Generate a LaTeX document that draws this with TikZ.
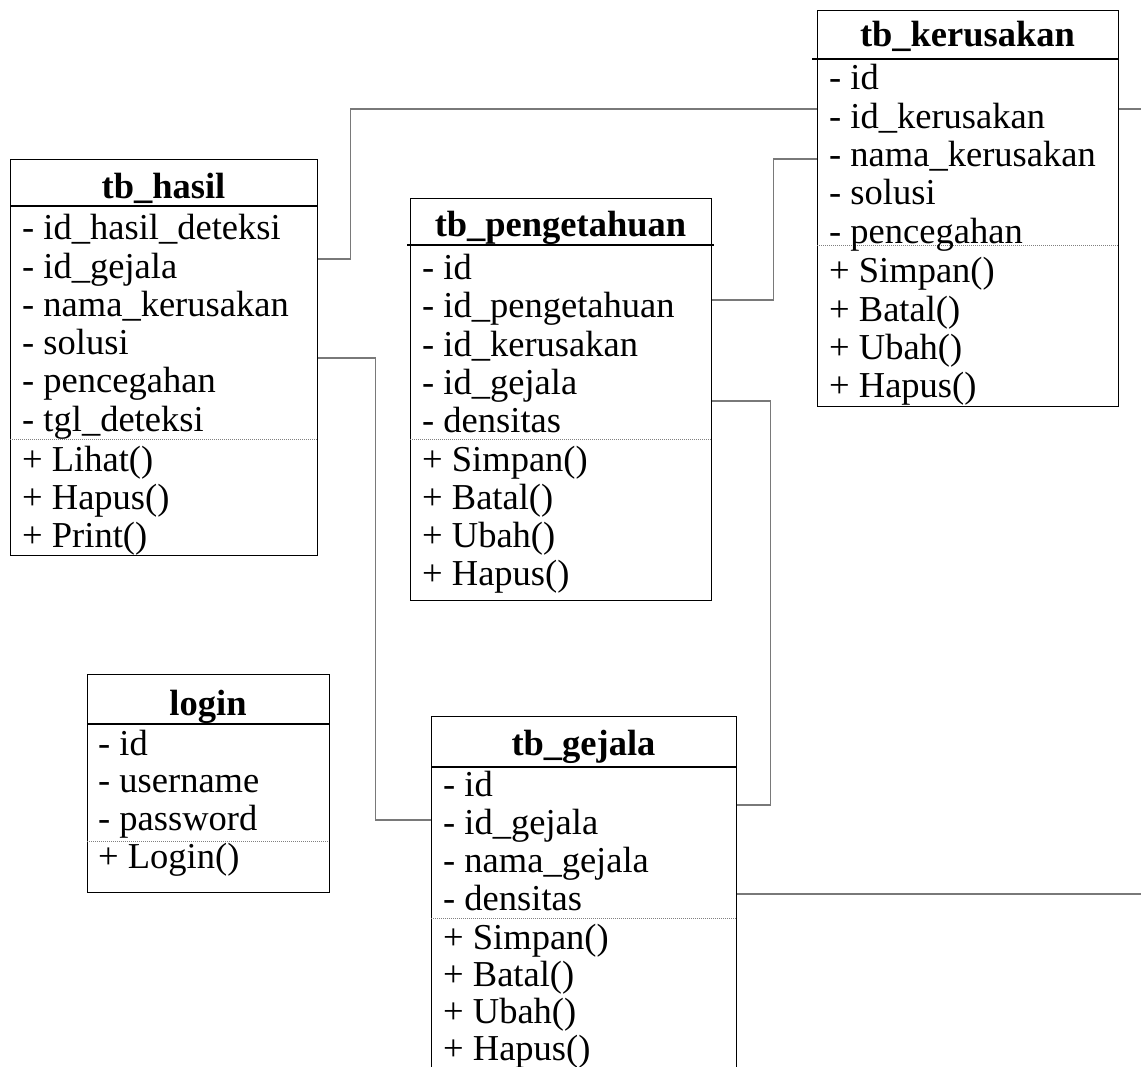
\documentclass[tikz,border=0pt]{standalone}
\usepackage{fontspec}
\setmainfont{Liberation Serif}
\usetikzlibrary{calc}

\tikzset{
  classbox/.style={draw=black, line width=1.3pt, anchor=north west, inner sep=0pt, fill=none},
  title/.style={anchor=base, inner sep=0pt, font=\fontsize{36.5}{38}\selectfont\bfseries},
  member/.style={anchor=base west, inner sep=0pt, font=\fontsize{36.5}{38}\selectfont},
  headrule/.style={draw=black, line width=1.3pt},
  splitrule/.style={draw=gray, line width=0.9pt, dash pattern=on 1pt off 1pt},
  conn/.style={draw=gray!95!black, line width=1.5pt},
}

\begin{document}
\begin{tikzpicture}[x=1pt, y=-1pt]
\clip (0,0) rectangle (1141,1067);

% ---- tb_hasil ----
\node[classbox, minimum width=307pt, minimum height=396pt] (hasil) at (10,159) {};
\node[title] (hasil-t) at (163.5,199) {tb\_hasil};
\draw[headrule] (10,206) -- (317,206);
\draw[splitrule] (10,439) -- (317,439);
\foreach \t [count=\i] in {- id\_hasil\_deteksi, - id\_gejala, - nama\_kerusakan, - solusi, - pencegahan, - tgl\_deteksi}
  \node[member] (hasil-a\i) at (22,{240+38.2*(\i-1)}) {\t};
\foreach \t [count=\i] in {+ Lihat(), + Hapus(), + Print()}
  \node[member] (hasil-m\i) at (22,{471+38*(\i-1)}) {\t};

% ---- tb_pengetahuan ----
\node[classbox, minimum width=301pt, minimum height=402pt] (peng) at (410,198) {};
\node[title] (peng-t) at (560.5,237) {tb\_pengetahuan};
\draw[headrule] (407,245) -- (714,245);
\draw[splitrule] (410,439) -- (711,439);
\foreach \t [count=\i] in {- id, - id\_pengetahuan, - id\_kerusakan, - id\_gejala, - densitas}
  \node[member] (peng-a\i) at (422,{280+38*(\i-1)}) {\t};
\foreach \t [count=\i] in {+ Simpan(), + Batal(), + Ubah(), + Hapus()}
  \node[member] (peng-m\i) at (422,{471+38.3*(\i-1)}) {\t};

% ---- tb_kerusakan ----
\node[classbox, minimum width=301pt, minimum height=396pt] (kerus) at (817,10) {};
\node[title] (kerus-t) at (967.5,47) {tb\_kerusakan};
\draw[headrule] (812,59) -- (1118,59);
\draw[splitrule] (817,245) -- (1118,245);
\foreach \t [count=\i] in {- id, - id\_kerusakan, - nama\_kerusakan, - solusi, - pencegahan}
  \node[member] (kerus-a\i) at (829,{90+38.3*(\i-1)}) {\t};
\foreach \t [count=\i] in {+ Simpan(), + Batal(), + Ubah(), + Hapus()}
  \node[member] (kerus-m\i) at (829,{283+38.3*(\i-1)}) {\t};

% ---- login ----
\node[classbox, minimum width=242pt, minimum height=218pt] (login) at (87,674) {};
\node[title] (login-t) at (208,715) {login};
\draw[headrule] (87,724) -- (329,724);
\draw[splitrule] (87,841) -- (329,841);
\foreach \t [count=\i] in {- id, - username, - password}
  \node[member] (login-a\i) at (98,{755+37.5*(\i-1)}) {\t};
\node[member] (login-m1) at (98,868) {+ Login()};

% ---- tb_gejala (runs past the lower edge) ----
\node[classbox, minimum width=305pt, minimum height=420pt] (gejala) at (431,716) {};
\node[title] (gejala-t) at (583.5,755) {tb\_gejala};
\draw[headrule] (431,767) -- (736,767);
\draw[splitrule] (431,918) -- (736,918);
\foreach \t [count=\i] in {- id, - id\_gejala, - nama\_gejala, - densitas}
  \node[member] (gejala-a\i) at (443,{796+38.3*(\i-1)}) {\t};
\foreach \t [count=\i] in {+ Simpan(), + Batal(), + Ubah(), + Hapus()}
  \node[member] (gejala-m\i) at (443,{949+37*(\i-1)}) {\t};

% ---- relations ----
\coordinate (edgeK) at (1141,109);
\coordinate (edgeG) at (1141,894);

\draw[conn] ([yshift=-100pt]hasil.north east) -- ++(32,0) |- ([yshift=-99pt]kerus.north west);
\draw[conn] ([yshift=-199pt]hasil.north east) -- ++(57,0) |- ([yshift=-104pt]gejala.north west);
\draw[conn] ([yshift=-102pt]peng.north east) -- ++(61,0) |- ([yshift=-149pt]kerus.north west);
\draw[conn] ([yshift=-203pt]peng.north east) -- ++(58,0) |- ([yshift=-89pt]gejala.north east);
\draw[conn] ([yshift=-99pt]kerus.north east) -- (edgeK);
\draw[conn] ([yshift=-178pt]gejala.north east) -- (edgeG);
\end{tikzpicture}
\end{document}
